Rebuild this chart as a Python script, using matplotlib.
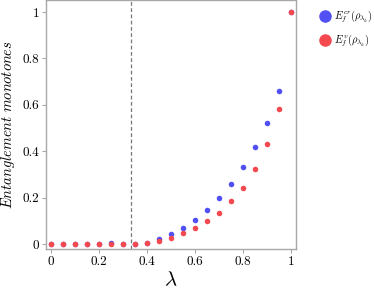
import matplotlib
matplotlib.use("Agg")
import matplotlib.pyplot as plt
from matplotlib.lines import Line2D

plt.rcParams['font.family'] = 'serif'
plt.rcParams['font.serif'] = ['cmr10', 'DejaVu Serif']
plt.rcParams['mathtext.fontset'] = 'cm'
plt.rcParams['axes.unicode_minus'] = False

lam = [0.0, 0.05, 0.10, 0.15, 0.20, 0.25, 0.30, 0.35, 0.40, 0.45, 0.50,
       0.55, 0.60, 0.65, 0.70, 0.75, 0.80, 0.85, 0.90, 0.95, 1.0]
e_cr = [0, 0, 0, 0, 0, 0.004, 0, 0, 0.006, 0.021, 0.043,
        0.070, 0.104, 0.147, 0.198, 0.258, 0.330, 0.416, 0.520, 0.661, 1.0]
e_v = [0, 0, 0, 0, 0, 0, 0, 0, 0.004, 0.013, 0.027,
       0.047, 0.070, 0.097, 0.134, 0.186, 0.241, 0.323, 0.430, 0.584, 1.0]
critical = 1/3
xticks = [0, 0.2, 0.4, 0.6, 0.8, 1]
xticklabels = ['0', '0.2', '0.4', '0.6', '0.8', '1']
yticks = [0, 0.2, 0.4, 0.6, 0.8, 1]
yticklabels = ['0', '0.2', '0.4', '0.6', '0.8', '1']

blue = '#5050f5'
red = '#f5494f'
frame = '#a8a8a8'

fig = plt.figure(figsize=(3.74, 2.92), dpi=100)
ax = fig.add_axes([46/374, 1 - 249/292, 250/374, 249/292])

ax.axvline(critical, color='#777777', linestyle=(0, (3, 2)), linewidth=0.9, zorder=1)
ax.scatter(lam, e_cr, s=16, color=blue, linewidths=0, zorder=2)
ax.scatter(lam, e_v, s=16, color=red, linewidths=0, zorder=3)

ax.set_xlim(-0.0208, 1.0208)
ax.set_ylim(-0.0216, 1.0517)
ax.set_xticks(xticks)
ax.set_xticklabels(xticklabels)
ax.set_yticks(yticks)
ax.set_yticklabels(yticklabels)
ax.tick_params(labelsize=9.5, color=frame, length=3, width=0.8, direction='out', pad=2)
for s in ax.spines.values():
    s.set_color(frame)
    s.set_linewidth(1.0)

ax.set_xlabel(r'$\lambda$', fontsize=15, labelpad=2)
ax.set_ylabel(r'$Entanglement\ monotones$', fontsize=10.5, labelpad=4)

handles = [Line2D([], [], marker='o', linestyle='', markersize=8, color=blue),
           Line2D([], [], marker='o', linestyle='', markersize=8, color=red)]
labels = [r'$E_f^{cr}(\rho_{\lambda_k})$', r'$E_f^{v}(\rho_{\lambda_k})$']
fig.legend(handles, labels, loc='upper left', bbox_to_anchor=(313/374, 1 - 5/292),
           frameon=False, fontsize=7.5, handletextpad=0.1, labelspacing=0.7,
           borderaxespad=0, handlelength=1.5)

fig.savefig('out.png', dpi=100)
